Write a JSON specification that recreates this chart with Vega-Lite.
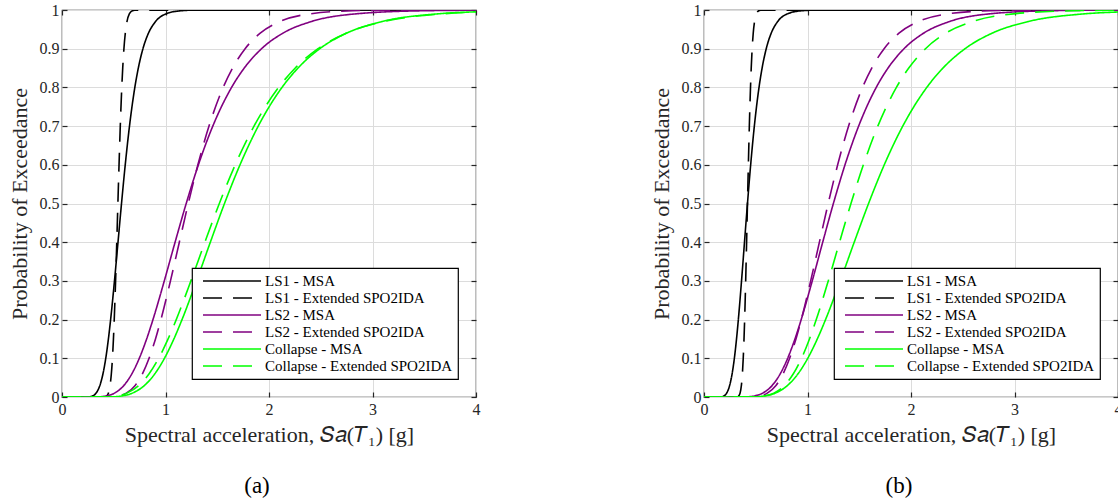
{
"$schema": "https://vega.github.io/schema/vega-lite/v6.json",
"background": "white",
"padding": {"left": 7, "top": 1, "right": 0, "bottom": 0},
"config": {
  "font": "Liberation Serif",
  "view": {"stroke": "#262626", "strokeWidth": 1.2},
  "axis": {"labelFont": "Liberation Serif", "labelFontSize": 16, "labelColor": "#262626", "labelFlush": false, "titleFont": "Liberation Serif", "titleFontSize": 22, "titleFontWeight": "normal", "titleColor": "#262626", "gridColor": "#dcdcdc", "gridWidth": 1, "tickColor": "#262626", "tickSize": -5, "tickWidth": 1.2, "domain": false},
  "axisX": {"labelPadding": 9, "titlePadding": 7},
  "axisY": {"labelPadding": 8, "titlePadding": 8},
  "legend": {"labelFont": "Liberation Serif", "labelFontSize": 15, "labelColor": "#000000", "labelLimit": 400, "strokeColor": "#000000", "strokeWidth": 1.2, "fillColor": "white", "padding": 5, "symbolType": "M-4.143,0H4.143", "symbolSize": 196, "symbolOffset": 27, "labelOffset": 25, "rowPadding": 1, "symbolStrokeWidth": 1.6, "orient": "bottom-right", "offset": 18, "title": null}
},
"datasets": {
"a": [
{"series":"LS1 - MSA","sa":0,"p":0},{"series":"LS1 - MSA","sa":0.2611,"p":0.0005},{"series":"LS1 - MSA","sa":0.2882,"p":0.002},{"series":"LS1 - MSA","sa":0.329,"p":0.01},{"series":"LS1 - MSA","sa":0.3661,"p":0.03},{"series":"LS1 - MSA","sa":0.3959,"p":0.06},{"series":"LS1 - MSA","sa":0.4228,"p":0.1},{"series":"LS1 - MSA","sa":0.4484,"p":0.15},{"series":"LS1 - MSA","sa":0.4698,"p":0.2},{"series":"LS1 - MSA","sa":0.507,"p":0.3},{"series":"LS1 - MSA","sa":0.5411,"p":0.4},{"series":"LS1 - MSA","sa":0.575,"p":0.5},{"series":"LS1 - MSA","sa":0.611,"p":0.6},{"series":"LS1 - MSA","sa":0.6521,"p":0.7},{"series":"LS1 - MSA","sa":0.7037,"p":0.8},{"series":"LS1 - MSA","sa":0.7374,"p":0.85},{"series":"LS1 - MSA","sa":0.7821,"p":0.9},{"series":"LS1 - MSA","sa":0.8351,"p":0.94},{"series":"LS1 - MSA","sa":0.9031,"p":0.97},{"series":"LS1 - MSA","sa":1.0049,"p":0.99},{"series":"LS1 - MSA","sa":1.1472,"p":0.998},{"series":"LS1 - MSA","sa":1.2664,"p":0.9995},{"series":"LS1 - MSA","sa":4,"p":1},
{"series":"LS1 - Extended SPO2IDA","sa":0,"p":0},{"series":"LS1 - Extended SPO2IDA","sa":0.415,"p":0.0005},{"series":"LS1 - Extended SPO2IDA","sa":0.4289,"p":0.002},{"series":"LS1 - Extended SPO2IDA","sa":0.4483,"p":0.01},{"series":"LS1 - Extended SPO2IDA","sa":0.4646,"p":0.03},{"series":"LS1 - Extended SPO2IDA","sa":0.4768,"p":0.06},{"series":"LS1 - Extended SPO2IDA","sa":0.4874,"p":0.1},{"series":"LS1 - Extended SPO2IDA","sa":0.497,"p":0.15},{"series":"LS1 - Extended SPO2IDA","sa":0.5048,"p":0.2},{"series":"LS1 - Extended SPO2IDA","sa":0.5178,"p":0.3},{"series":"LS1 - Extended SPO2IDA","sa":0.5292,"p":0.4},{"series":"LS1 - Extended SPO2IDA","sa":0.54,"p":0.5},{"series":"LS1 - Extended SPO2IDA","sa":0.5511,"p":0.6},{"series":"LS1 - Extended SPO2IDA","sa":0.5631,"p":0.7},{"series":"LS1 - Extended SPO2IDA","sa":0.5776,"p":0.8},{"series":"LS1 - Extended SPO2IDA","sa":0.5867,"p":0.85},{"series":"LS1 - Extended SPO2IDA","sa":0.5983,"p":0.9},{"series":"LS1 - Extended SPO2IDA","sa":0.6115,"p":0.94},{"series":"LS1 - Extended SPO2IDA","sa":0.6277,"p":0.97},{"series":"LS1 - Extended SPO2IDA","sa":0.6504,"p":0.99},{"series":"LS1 - Extended SPO2IDA","sa":0.6798,"p":0.998},{"series":"LS1 - Extended SPO2IDA","sa":0.7026,"p":0.9995},{"series":"LS1 - Extended SPO2IDA","sa":4,"p":1},
{"series":"LS2 - MSA","sa":0,"p":0},{"series":"LS2 - MSA","sa":0.3552,"p":0.0005},{"series":"LS2 - MSA","sa":0.4137,"p":0.002},{"series":"LS2 - MSA","sa":0.5075,"p":0.01},{"series":"LS2 - MSA","sa":0.5983,"p":0.03},{"series":"LS2 - MSA","sa":0.675,"p":0.06},{"series":"LS2 - MSA","sa":0.7469,"p":0.1},{"series":"LS2 - MSA","sa":0.8178,"p":0.15},{"series":"LS2 - MSA","sa":0.8789,"p":0.2},{"series":"LS2 - MSA","sa":0.9884,"p":0.3},{"series":"LS2 - MSA","sa":1.0926,"p":0.4},{"series":"LS2 - MSA","sa":1.2,"p":0.5},{"series":"LS2 - MSA","sa":1.3179,"p":0.6},{"series":"LS2 - MSA","sa":1.457,"p":0.7},{"series":"LS2 - MSA","sa":1.6384,"p":0.8},{"series":"LS2 - MSA","sa":1.7608,"p":0.85},{"series":"LS2 - MSA","sa":1.9281,"p":0.9},{"series":"LS2 - MSA","sa":2.1333,"p":0.94},{"series":"LS2 - MSA","sa":2.4068,"p":0.97},{"series":"LS2 - MSA","sa":2.8376,"p":0.99},{"series":"LS2 - MSA","sa":3.4805,"p":0.998},{"series":"LS2 - MSA","sa":4,"p":0.9994},
{"series":"LS2 - Extended SPO2IDA","sa":0,"p":0},{"series":"LS2 - Extended SPO2IDA","sa":0.4699,"p":0.0005},{"series":"LS2 - Extended SPO2IDA","sa":0.5295,"p":0.002},{"series":"LS2 - Extended SPO2IDA","sa":0.6215,"p":0.01},{"series":"LS2 - Extended SPO2IDA","sa":0.7071,"p":0.03},{"series":"LS2 - Extended SPO2IDA","sa":0.7772,"p":0.06},{"series":"LS2 - Extended SPO2IDA","sa":0.8413,"p":0.1},{"series":"LS2 - Extended SPO2IDA","sa":0.9033,"p":0.15},{"series":"LS2 - Extended SPO2IDA","sa":0.9558,"p":0.2},{"series":"LS2 - Extended SPO2IDA","sa":1.0479,"p":0.3},{"series":"LS2 - Extended SPO2IDA","sa":1.1336,"p":0.4},{"series":"LS2 - Extended SPO2IDA","sa":1.22,"p":0.5},{"series":"LS2 - Extended SPO2IDA","sa":1.313,"p":0.6},{"series":"LS2 - Extended SPO2IDA","sa":1.4204,"p":0.7},{"series":"LS2 - Extended SPO2IDA","sa":1.5572,"p":0.8},{"series":"LS2 - Extended SPO2IDA","sa":1.6478,"p":0.85},{"series":"LS2 - Extended SPO2IDA","sa":1.7692,"p":0.9},{"series":"LS2 - Extended SPO2IDA","sa":1.9152,"p":0.94},{"series":"LS2 - Extended SPO2IDA","sa":2.105,"p":0.97},{"series":"LS2 - Extended SPO2IDA","sa":2.395,"p":0.99},{"series":"LS2 - Extended SPO2IDA","sa":2.8108,"p":0.998},{"series":"LS2 - Extended SPO2IDA","sa":3.1675,"p":0.9995},{"series":"LS2 - Extended SPO2IDA","sa":4,"p":1},
{"series":"Collapse - MSA","sa":0,"p":0},{"series":"Collapse - MSA","sa":0.4803,"p":0.0005},{"series":"Collapse - MSA","sa":0.5571,"p":0.002},{"series":"Collapse - MSA","sa":0.6796,"p":0.01},{"series":"Collapse - MSA","sa":0.7977,"p":0.03},{"series":"Collapse - MSA","sa":0.897,"p":0.06},{"series":"Collapse - MSA","sa":0.9897,"p":0.1},{"series":"Collapse - MSA","sa":1.0811,"p":0.15},{"series":"Collapse - MSA","sa":1.1596,"p":0.2},{"series":"Collapse - MSA","sa":1.2999,"p":0.3},{"series":"Collapse - MSA","sa":1.4332,"p":0.4},{"series":"Collapse - MSA","sa":1.57,"p":0.5},{"series":"Collapse - MSA","sa":1.7199,"p":0.6},{"series":"Collapse - MSA","sa":1.8962,"p":0.7},{"series":"Collapse - MSA","sa":2.1256,"p":0.8},{"series":"Collapse - MSA","sa":2.28,"p":0.85},{"series":"Collapse - MSA","sa":2.4904,"p":0.9},{"series":"Collapse - MSA","sa":2.748,"p":0.94},{"series":"Collapse - MSA","sa":3.0902,"p":0.97},{"series":"Collapse - MSA","sa":3.6271,"p":0.99},{"series":"Collapse - MSA","sa":4,"p":0.9953},
{"series":"Collapse - Extended SPO2IDA","sa":0,"p":0},{"series":"Collapse - Extended SPO2IDA","sa":0.4354,"p":0.0005},{"series":"Collapse - Extended SPO2IDA","sa":0.5092,"p":0.002},{"series":"Collapse - Extended SPO2IDA","sa":0.628,"p":0.01},{"series":"Collapse - Extended SPO2IDA","sa":0.7437,"p":0.03},{"series":"Collapse - Extended SPO2IDA","sa":0.8418,"p":0.06},{"series":"Collapse - Extended SPO2IDA","sa":0.934,"p":0.1},{"series":"Collapse - Extended SPO2IDA","sa":1.0252,"p":0.15},{"series":"Collapse - Extended SPO2IDA","sa":1.1039,"p":0.2},{"series":"Collapse - Extended SPO2IDA","sa":1.2454,"p":0.3},{"series":"Collapse - Extended SPO2IDA","sa":1.3805,"p":0.4},{"series":"Collapse - Extended SPO2IDA","sa":1.52,"p":0.5},{"series":"Collapse - Extended SPO2IDA","sa":1.6736,"p":0.6},{"series":"Collapse - Extended SPO2IDA","sa":1.8552,"p":0.7},{"series":"Collapse - Extended SPO2IDA","sa":2.0928,"p":0.8},{"series":"Collapse - Extended SPO2IDA","sa":2.2536,"p":0.85},{"series":"Collapse - Extended SPO2IDA","sa":2.4737,"p":0.9},{"series":"Collapse - Extended SPO2IDA","sa":2.7445,"p":0.94},{"series":"Collapse - Extended SPO2IDA","sa":3.1065,"p":0.97},{"series":"Collapse - Extended SPO2IDA","sa":3.6788,"p":0.99},{"series":"Collapse - Extended SPO2IDA","sa":4,"p":0.9946}
],
"b": [
{"series":"LS1 - MSA","sa":0,"p":0},{"series":"LS1 - MSA","sa":0.1672,"p":0.0005},{"series":"LS1 - MSA","sa":0.1876,"p":0.002},{"series":"LS1 - MSA","sa":0.219,"p":0.01},{"series":"LS1 - MSA","sa":0.248,"p":0.03},{"series":"LS1 - MSA","sa":0.2717,"p":0.06},{"series":"LS1 - MSA","sa":0.2934,"p":0.1},{"series":"LS1 - MSA","sa":0.3142,"p":0.15},{"series":"LS1 - MSA","sa":0.3318,"p":0.2},{"series":"LS1 - MSA","sa":0.3626,"p":0.3},{"series":"LS1 - MSA","sa":0.3912,"p":0.4},{"series":"LS1 - MSA","sa":0.42,"p":0.5},{"series":"LS1 - MSA","sa":0.4509,"p":0.6},{"series":"LS1 - MSA","sa":0.4864,"p":0.7},{"series":"LS1 - MSA","sa":0.5316,"p":0.8},{"series":"LS1 - MSA","sa":0.5614,"p":0.85},{"series":"LS1 - MSA","sa":0.6013,"p":0.9},{"series":"LS1 - MSA","sa":0.6491,"p":0.94},{"series":"LS1 - MSA","sa":0.7112,"p":0.97},{"series":"LS1 - MSA","sa":0.8056,"p":0.99},{"series":"LS1 - MSA","sa":0.9402,"p":0.998},{"series":"LS1 - MSA","sa":1.0552,"p":0.9995},{"series":"LS1 - MSA","sa":4,"p":1},
{"series":"LS1 - Extended SPO2IDA","sa":0,"p":0},{"series":"LS1 - Extended SPO2IDA","sa":0.3228,"p":0.0005},{"series":"LS1 - Extended SPO2IDA","sa":0.3336,"p":0.002},{"series":"LS1 - Extended SPO2IDA","sa":0.3487,"p":0.01},{"series":"LS1 - Extended SPO2IDA","sa":0.3613,"p":0.03},{"series":"LS1 - Extended SPO2IDA","sa":0.3709,"p":0.06},{"series":"LS1 - Extended SPO2IDA","sa":0.3791,"p":0.1},{"series":"LS1 - Extended SPO2IDA","sa":0.3866,"p":0.15},{"series":"LS1 - Extended SPO2IDA","sa":0.3927,"p":0.2},{"series":"LS1 - Extended SPO2IDA","sa":0.4027,"p":0.3},{"series":"LS1 - Extended SPO2IDA","sa":0.4116,"p":0.4},{"series":"LS1 - Extended SPO2IDA","sa":0.42,"p":0.5},{"series":"LS1 - Extended SPO2IDA","sa":0.4286,"p":0.6},{"series":"LS1 - Extended SPO2IDA","sa":0.438,"p":0.7},{"series":"LS1 - Extended SPO2IDA","sa":0.4493,"p":0.8},{"series":"LS1 - Extended SPO2IDA","sa":0.4563,"p":0.85},{"series":"LS1 - Extended SPO2IDA","sa":0.4653,"p":0.9},{"series":"LS1 - Extended SPO2IDA","sa":0.4756,"p":0.94},{"series":"LS1 - Extended SPO2IDA","sa":0.4882,"p":0.97},{"series":"LS1 - Extended SPO2IDA","sa":0.5059,"p":0.99},{"series":"LS1 - Extended SPO2IDA","sa":0.5287,"p":0.998},{"series":"LS1 - Extended SPO2IDA","sa":0.5465,"p":0.9995},{"series":"LS1 - Extended SPO2IDA","sa":4,"p":1},
{"series":"LS2 - MSA","sa":0,"p":0},{"series":"LS2 - MSA","sa":0.4084,"p":0.0005},{"series":"LS2 - MSA","sa":0.4698,"p":0.002},{"series":"LS2 - MSA","sa":0.5668,"p":0.01},{"series":"LS2 - MSA","sa":0.6594,"p":0.03},{"series":"LS2 - MSA","sa":0.7367,"p":0.06},{"series":"LS2 - MSA","sa":0.8085,"p":0.1},{"series":"LS2 - MSA","sa":0.8788,"p":0.15},{"series":"LS2 - MSA","sa":0.939,"p":0.2},{"series":"LS2 - MSA","sa":1.0459,"p":0.3},{"series":"LS2 - MSA","sa":1.1469,"p":0.4},{"series":"LS2 - MSA","sa":1.25,"p":0.5},{"series":"LS2 - MSA","sa":1.3624,"p":0.6},{"series":"LS2 - MSA","sa":1.494,"p":0.7},{"series":"LS2 - MSA","sa":1.6641,"p":0.8},{"series":"LS2 - MSA","sa":1.7781,"p":0.85},{"series":"LS2 - MSA","sa":1.9326,"p":0.9},{"series":"LS2 - MSA","sa":2.1209,"p":0.94},{"series":"LS2 - MSA","sa":2.3695,"p":0.97},{"series":"LS2 - MSA","sa":2.7566,"p":0.99},{"series":"LS2 - MSA","sa":3.3257,"p":0.998},{"series":"LS2 - MSA","sa":3.8257,"p":0.9995},{"series":"LS2 - MSA","sa":4,"p":0.9997},
{"series":"LS2 - Extended SPO2IDA","sa":0,"p":0},{"series":"LS2 - Extended SPO2IDA","sa":0.4622,"p":0.0005},{"series":"LS2 - Extended SPO2IDA","sa":0.5208,"p":0.002},{"series":"LS2 - Extended SPO2IDA","sa":0.6113,"p":0.01},{"series":"LS2 - Extended SPO2IDA","sa":0.6955,"p":0.03},{"series":"LS2 - Extended SPO2IDA","sa":0.7644,"p":0.06},{"series":"LS2 - Extended SPO2IDA","sa":0.8275,"p":0.1},{"series":"LS2 - Extended SPO2IDA","sa":0.8885,"p":0.15},{"series":"LS2 - Extended SPO2IDA","sa":0.9401,"p":0.2},{"series":"LS2 - Extended SPO2IDA","sa":1.0307,"p":0.3},{"series":"LS2 - Extended SPO2IDA","sa":1.115,"p":0.4},{"series":"LS2 - Extended SPO2IDA","sa":1.2,"p":0.5},{"series":"LS2 - Extended SPO2IDA","sa":1.2915,"p":0.6},{"series":"LS2 - Extended SPO2IDA","sa":1.3971,"p":0.7},{"series":"LS2 - Extended SPO2IDA","sa":1.5317,"p":0.8},{"series":"LS2 - Extended SPO2IDA","sa":1.6207,"p":0.85},{"series":"LS2 - Extended SPO2IDA","sa":1.7402,"p":0.9},{"series":"LS2 - Extended SPO2IDA","sa":1.8838,"p":0.94},{"series":"LS2 - Extended SPO2IDA","sa":2.0705,"p":0.97},{"series":"LS2 - Extended SPO2IDA","sa":2.3558,"p":0.99},{"series":"LS2 - Extended SPO2IDA","sa":2.7647,"p":0.998},{"series":"LS2 - Extended SPO2IDA","sa":3.1156,"p":0.9995},{"series":"LS2 - Extended SPO2IDA","sa":4,"p":1},
{"series":"Collapse - MSA","sa":0,"p":0},{"series":"Collapse - MSA","sa":0.4864,"p":0.0005},{"series":"Collapse - MSA","sa":0.5642,"p":0.002},{"series":"Collapse - MSA","sa":0.6882,"p":0.01},{"series":"Collapse - MSA","sa":0.8078,"p":0.03},{"series":"Collapse - MSA","sa":0.9084,"p":0.06},{"series":"Collapse - MSA","sa":1.0024,"p":0.1},{"series":"Collapse - MSA","sa":1.0949,"p":0.15},{"series":"Collapse - MSA","sa":1.1744,"p":0.2},{"series":"Collapse - MSA","sa":1.3165,"p":0.3},{"series":"Collapse - MSA","sa":1.4514,"p":0.4},{"series":"Collapse - MSA","sa":1.59,"p":0.5},{"series":"Collapse - MSA","sa":1.7418,"p":0.6},{"series":"Collapse - MSA","sa":1.9204,"p":0.7},{"series":"Collapse - MSA","sa":2.1527,"p":0.8},{"series":"Collapse - MSA","sa":2.309,"p":0.85},{"series":"Collapse - MSA","sa":2.5222,"p":0.9},{"series":"Collapse - MSA","sa":2.783,"p":0.94},{"series":"Collapse - MSA","sa":3.1296,"p":0.97},{"series":"Collapse - MSA","sa":3.6733,"p":0.99},{"series":"Collapse - MSA","sa":4,"p":0.9948},
{"series":"Collapse - Extended SPO2IDA","sa":0,"p":0},{"series":"Collapse - Extended SPO2IDA","sa":0.4955,"p":0.0005},{"series":"Collapse - Extended SPO2IDA","sa":0.5654,"p":0.002},{"series":"Collapse - Extended SPO2IDA","sa":0.6746,"p":0.01},{"series":"Collapse - Extended SPO2IDA","sa":0.7778,"p":0.03},{"series":"Collapse - Extended SPO2IDA","sa":0.8633,"p":0.06},{"series":"Collapse - Extended SPO2IDA","sa":0.9423,"p":0.1},{"series":"Collapse - Extended SPO2IDA","sa":1.0192,"p":0.15},{"series":"Collapse - Extended SPO2IDA","sa":1.0847,"p":0.2},{"series":"Collapse - Extended SPO2IDA","sa":1.2006,"p":0.3},{"series":"Collapse - Extended SPO2IDA","sa":1.3095,"p":0.4},{"series":"Collapse - Extended SPO2IDA","sa":1.42,"p":0.5},{"series":"Collapse - Extended SPO2IDA","sa":1.5399,"p":0.6},{"series":"Collapse - Extended SPO2IDA","sa":1.6794,"p":0.7},{"series":"Collapse - Extended SPO2IDA","sa":1.8589,"p":0.8},{"series":"Collapse - Extended SPO2IDA","sa":1.9784,"p":0.85},{"series":"Collapse - Extended SPO2IDA","sa":2.1399,"p":0.9},{"series":"Collapse - Extended SPO2IDA","sa":2.3356,"p":0.94},{"series":"Collapse - Extended SPO2IDA","sa":2.5924,"p":0.97},{"series":"Collapse - Extended SPO2IDA","sa":2.9891,"p":0.99},{"series":"Collapse - Extended SPO2IDA","sa":3.5666,"p":0.998},{"series":"Collapse - Extended SPO2IDA","sa":4,"p":0.9994}
]
},
"spacing": 228,
"bounds": "flush",
"resolve": {"scale": {"color": "independent", "strokeDash": "independent"}, "legend": {"color": "independent", "strokeDash": "independent"}},
"hconcat": [
{
  "width": 414, "height": 387,
  "data": {"name": "a"},
  "title": {"text": "(a)", "orient": "bottom", "font": "Liberation Serif", "fontSize": 23, "fontWeight": "normal", "color": "#000000", "offset": 30, "dx": -12},
  "layer": [
    {"mark": {"type": "line", "strokeWidth": 1.6, "interpolate": "monotone", "clip": true},
     "encoding": {
       "x": {"field": "sa", "type": "quantitative", "scale": {"domain": [0, 4], "nice": false}, "axis": {"values": [0, 1, 2, 3, 4], "format": "~g", "title": "Spectral acceleration, 𝑆𝑎(𝑇₁)  [g]", "grid": true}},
       "y": {"field": "p", "type": "quantitative", "scale": {"domain": [0, 1], "nice": false}, "axis": {"values": [0, 0.1, 0.2, 0.3, 0.4, 0.5, 0.6, 0.7, 0.8, 0.9, 1], "format": "~g", "title": "Probability of Exceedance", "grid": true}},
       "color": {"field": "series", "type": "nominal", "scale": {"domain": ["LS1 - MSA", "LS1 - Extended SPO2IDA", "LS2 - MSA", "LS2 - Extended SPO2IDA", "Collapse - MSA", "Collapse - Extended SPO2IDA"], "range": ["#000000", "#000000", "#800080", "#800080", "#00ff00", "#00ff00"]}, "legend": {"orient": "bottom-right", "title": null}},
       "strokeDash": {"field": "series", "type": "nominal", "scale": {"domain": ["LS1 - MSA", "LS1 - Extended SPO2IDA", "LS2 - MSA", "LS2 - Extended SPO2IDA", "Collapse - MSA", "Collapse - Extended SPO2IDA"], "range": [[1, 0], [19, 11], [1, 0], [19, 11], [1, 0], [19, 11]]}, "legend": {"orient": "bottom-right", "title": null}}
     }},
    {"mark": {"type": "line", "opacity": 0},
     "encoding": {
       "x": {"field": "sa", "type": "quantitative", "axis": {"orient": "top", "values": [0, 1, 2, 3, 4], "labels": false, "title": null, "grid": false}},
       "y": {"field": "p", "type": "quantitative", "axis": {"orient": "right", "values": [0, 0.1, 0.2, 0.3, 0.4, 0.5, 0.6, 0.7, 0.8, 0.9, 1], "labels": false, "title": null, "grid": false}},
       "detail": {"field": "series", "type": "nominal"}
     }}
  ],
  "resolve": {"axis": {"x": "independent", "y": "independent"}}
},
{
  "width": 414, "height": 387,
  "data": {"name": "b"},
  "title": {"text": "(b)", "orient": "bottom", "font": "Liberation Serif", "fontSize": 23, "fontWeight": "normal", "color": "#000000", "offset": 30, "dx": -12},
  "layer": [
    {"mark": {"type": "line", "strokeWidth": 1.6, "interpolate": "monotone", "clip": true},
     "encoding": {
       "x": {"field": "sa", "type": "quantitative", "scale": {"domain": [0, 4], "nice": false}, "axis": {"values": [0, 1, 2, 3, 4], "format": "~g", "title": "Spectral acceleration, 𝑆𝑎(𝑇₁)  [g]", "grid": true}},
       "y": {"field": "p", "type": "quantitative", "scale": {"domain": [0, 1], "nice": false}, "axis": {"values": [0, 0.1, 0.2, 0.3, 0.4, 0.5, 0.6, 0.7, 0.8, 0.9, 1], "format": "~g", "title": "Probability of Exceedance", "grid": true}},
       "color": {"field": "series", "type": "nominal", "scale": {"domain": ["LS1 - MSA", "LS1 - Extended SPO2IDA", "LS2 - MSA", "LS2 - Extended SPO2IDA", "Collapse - MSA", "Collapse - Extended SPO2IDA"], "range": ["#000000", "#000000", "#800080", "#800080", "#00ff00", "#00ff00"]}, "legend": {"orient": "bottom-right", "title": null}},
       "strokeDash": {"field": "series", "type": "nominal", "scale": {"domain": ["LS1 - MSA", "LS1 - Extended SPO2IDA", "LS2 - MSA", "LS2 - Extended SPO2IDA", "Collapse - MSA", "Collapse - Extended SPO2IDA"], "range": [[1, 0], [19, 11], [1, 0], [19, 11], [1, 0], [19, 11]]}, "legend": {"orient": "bottom-right", "title": null}}
     }},
    {"mark": {"type": "line", "opacity": 0},
     "encoding": {
       "x": {"field": "sa", "type": "quantitative", "axis": {"orient": "top", "values": [0, 1, 2, 3, 4], "labels": false, "title": null, "grid": false}},
       "y": {"field": "p", "type": "quantitative", "axis": {"orient": "right", "values": [0, 0.1, 0.2, 0.3, 0.4, 0.5, 0.6, 0.7, 0.8, 0.9, 1], "labels": false, "title": null, "grid": false}},
       "detail": {"field": "series", "type": "nominal"}
     }}
  ],
  "resolve": {"axis": {"x": "independent", "y": "independent"}}
}
]
}
